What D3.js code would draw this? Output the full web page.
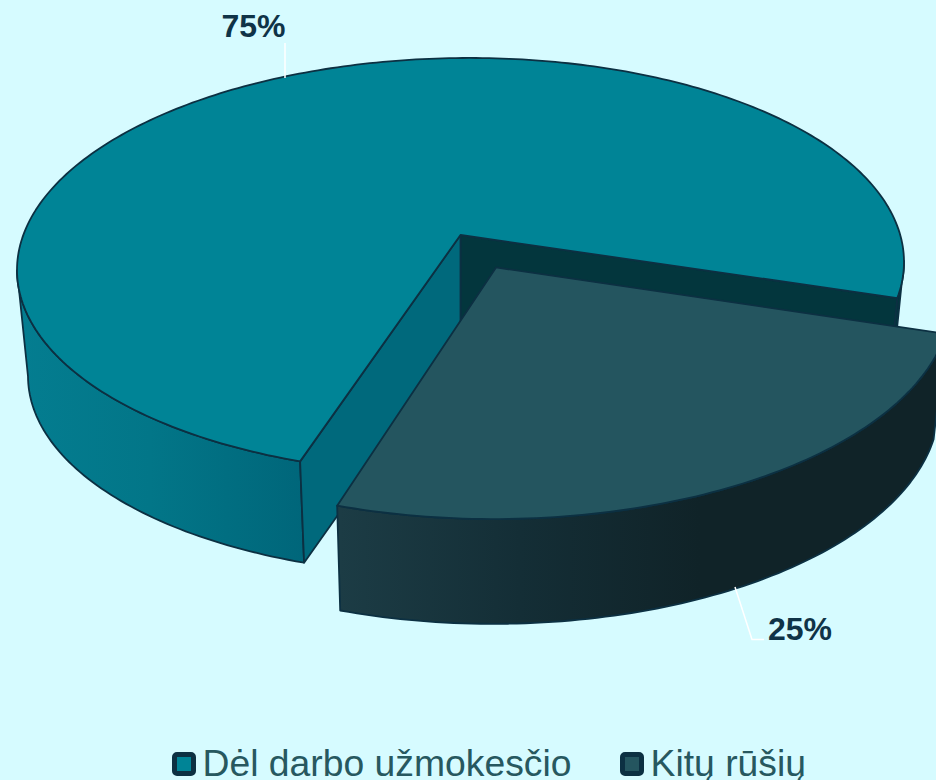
<!DOCTYPE html>
<html><head><meta charset="utf-8">
<script src="https://cdn.jsdelivr.net/npm/d3@7"></script>
<style>html,body{margin:0;padding:0;background:#d6fbff;overflow:hidden}svg{display:block}</style>
</head><body><svg id="c" width="936" height="780"></svg>
<script>
const categories = ["Dėl darbo užmokesčio", "Kitų rūšių"];
const values = [75, 25];
const valueLabels = ["75%", "25%"];

const W = 936, H = 780, stroke = "#0c3042";
const rad = d => d * Math.PI / 180;
const svg = d3.select("#c");
svg.append("rect").attr("width", W).attr("height", H).attr("fill", "#d6fbff");

const defs = svg.append("defs");
function grad(id, stops) {
  const g = defs.append("linearGradient").attr("id", id).attr("gradientUnits", "userSpaceOnUse")
    .attr("x1", stops[0][0]).attr("x2", stops[stops.length - 1][0]).attr("y1", 0).attr("y2", 0);
  stops.forEach(s => g.append("stop")
    .attr("offset", (s[0] - stops[0][0]) / (stops[stops.length - 1][0] - stops[0][0]))
    .attr("stop-color", s[1]));
}
grad("wallMain", [[20, "#047d90"], [150, "#027688"], [304, "#00667a"]]);
grad("wallOther", [[340, "#1c3c45"], [520, "#142e36"], [700, "#102328"], [936, "#102328"]]);

// Perspective: the unit circle of the pie plane maps on to an ellipse whose centre is offset from the pie centre.
const a = -0.149, k = Math.sqrt(1 - a * a);
const sxTop = d3.scaleLinear().domain([-1, 1]).range([17, 904]);
const syTop = d3.scaleLinear().domain([-1, 1]).range([58, 474]);
const sxBot = d3.scaleLinear().domain([-1, 1]).range([28, 893]);
const syBotMain = d3.scaleLinear().domain([-1, 1]).range([169, 575]);
const syBotOther = d3.scaleLinear().domain([-1, 1]).range([165, 579]);
const tilt = d3.scaleLinear().domain([-1, 1]).range([4, -4]);
const explode = 0.176;

function project(u, v, sy) {
  const w = 1 + a * v;
  const X = u * k / w, Y = (v + a) / w;
  return sy ? [sxBot(X), sy(Y) + tilt(X)] : [sxTop(X), syTop(Y) + tilt(X)];
}
const pie = d3.pie().sort(null).startAngle(rad(198.3)).endAngle(rad(198.3 + 360));
const arcs = pie(values);
const line = d3.line();

function rim(s, e, off, sy) {
  const n = Math.max(2, Math.ceil(Math.abs(e - s) / rad(1)));
  return d3.range(n + 1).map(i => {
    const t = s + (e - s) * i / n - Math.PI / 2;
    return project(Math.cos(t) + off[0], Math.sin(t) + off[1], sy);
  });
}
function draw(pts, fill) {
  svg.append("path").attr("d", line(pts) + "Z").attr("fill", fill)
    .attr("stroke", stroke).attr("stroke-width", 1.8).attr("stroke-linejoin", "round");
}

// Main slice
{
  const d = arcs[0], o = [0, 0];
  const c0 = project(0, 0), c1 = project(0, 0, syBotMain);
  const tS = rim(d.startAngle, d.endAngle, o), bS = rim(d.startAngle, d.endAngle, o, syBotMain);
  const last = tS.length - 1;
  const left = d3.leastIndex(tS, p => p[0]), right = d3.greatestIndex(tS, p => p[0]);
  // visible outer wall: front-left part of the rim, and the short part on the far right
  draw(tS.slice(0, left + 1).concat(bS.slice(0, left + 1).reverse()), "url(#wallMain)");
  draw(tS.slice(right).concat(bS.slice(right).reverse()), "#03363d");
  // cut faces
  draw([c0, tS[last], bS[last], c1], "#03363d");
  draw([c0, tS[0], bS[0], c1], "#00697c");
  draw([c0].concat(tS), "#008496");
}
// Exploded slice
{
  const d = arcs[1], mid = (d.startAngle + d.endAngle) / 2 - Math.PI / 2;
  const o = [explode * Math.cos(mid), explode * Math.sin(mid)];
  const tS = rim(d.startAngle, d.endAngle, o), bS = rim(d.startAngle, d.endAngle, o, syBotOther);
  const c0 = project(o[0], o[1]);
  draw(tS.concat(bS.slice().reverse()), "url(#wallOther)");
  draw([c0].concat(tS), "#24555f");
}

// Data labels with leader lines
const leaders = [[[285, 43], [285, 78]], [[735, 587], [752, 639.5], [764, 639.5]]];
leaders.forEach(p => svg.append("path").attr("d", line(p)).attr("fill", "none")
  .attr("stroke", "#ffffff").attr("stroke-width", 1.5));
const labelPos = [[253.5, 37], [800, 640]];
valueLabels.forEach((t, i) => svg.append("text").text(t)
  .attr("x", labelPos[i][0]).attr("y", labelPos[i][1]).attr("text-anchor", "middle")
  .attr("font-family", "Liberation Sans").attr("font-weight", 700).attr("font-size", 32)
  .attr("fill", "#0f3347"));

// Legend
const legendX = [172, 620], legendFill = ["#008496", "#24555f"];
categories.forEach((t, i) => {
  const g = svg.append("g").attr("transform", `translate(${legendX[i]},752)`);
  g.append("rect").attr("x", 2.5).attr("y", 2.5).attr("width", 19).attr("height", 19).attr("rx", 2.5)
    .attr("fill", legendFill[i]).attr("stroke", "#0c3042").attr("stroke-width", 5);
  g.append("text").text(t).attr("x", 30.5).attr("y", 23.5)
    .attr("font-family", "Liberation Sans").attr("font-size", 37.3).attr("fill", "#27585f");
});
</script></body></html>
